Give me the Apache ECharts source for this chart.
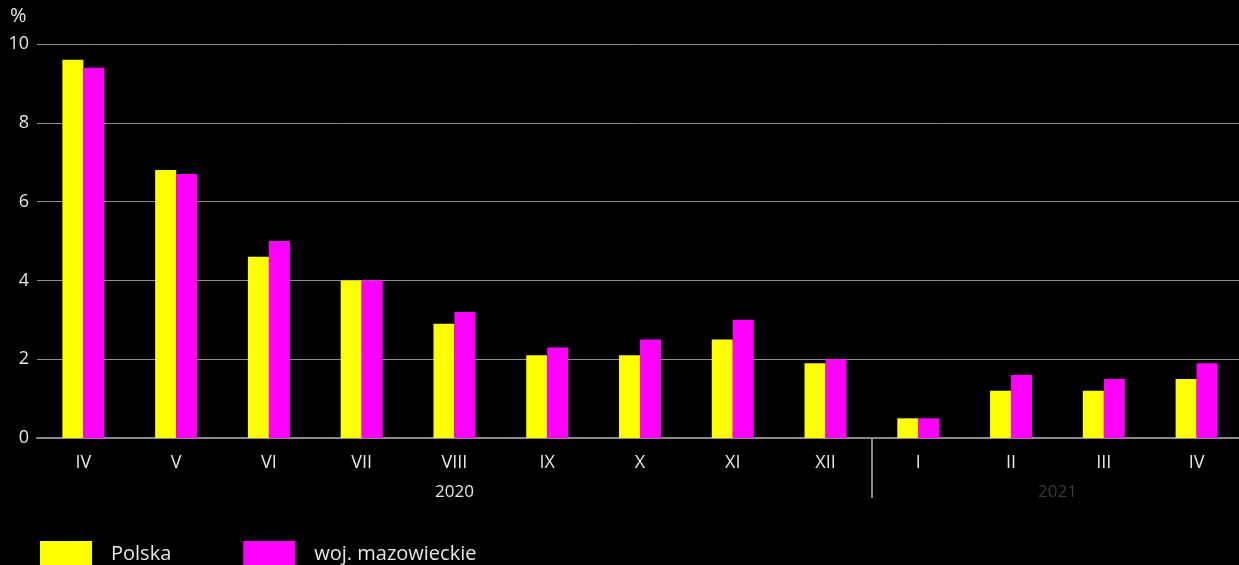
<!DOCTYPE html>
<html>
<head>
<meta charset="utf-8">
<script src="https://cdn.jsdelivr.net/npm/echarts@6/dist/echarts.min.js"></script>
<style>
  html, body { margin: 0; padding: 0; background: #000; }
  #chart { width: 1239px; height: 565px; }
</style>
</head>
<body>
<div id="chart"></div>
<script>
// months (IV 2020 .. IV 2021)
const months = ["IV", "V", "VI", "VII", "VIII", "IX", "X", "XI", "XII", "I", "II", "III", "IV"];
const polska = [9.6, 6.8, 4.6, 4.0, 2.9, 2.1, 2.1, 2.5, 1.9, 0.5, 1.2, 1.2, 1.5];
const mazowieckie = [9.4, 6.7, 5.0, 4.0, 3.2, 2.3, 2.5, 3.0, 2.0, 0.5, 1.6, 1.5, 1.9];
// year labels: position (category index) and text
const yearPos = [4, 10.5];
const yearNames = ["2020", "2021"];
const yearColors = ["#e6e6e6", "#3a3a3a"];
const yearBreak = [8.5];

const font = "'Open Sans', 'Noto Sans', sans-serif";
const chart = echarts.init(document.getElementById("chart"));

const option = {
  backgroundColor: "#000",
  animation: false,
  textStyle: { fontFamily: font },
  graphic: [
    {
      type: "text",
      left: 10,
      top: 6,
      style: { text: "%", fill: "#e6e6e6", font: "20px " + font },
    },
  ],
  legend: {
    left: 40,
    top: 541,
    padding: 0,
    itemWidth: 52,
    itemHeight: 26,
    itemGap: 72,
    icon: "rect",
    textStyle: { color: "#e6e6e6", fontSize: 20, padding: [0, 0, 0, 14] },
    data: ["Polska", "woj. mazowieckie"],
  },
  grid: {
    left: 37,
    top: 44,
    width: 1206,
    height: 394,
    outerBoundsMode: "none",
  },
  xAxis: [
    {
      type: "category",
      data: months,
      axisLine: { lineStyle: { color: "#8a8a8a", width: 2 } },
      axisTick: { show: false },
      axisLabel: { color: "#e6e6e6", fontSize: 18, margin: 16 },
    },
    {
      type: "value",
      min: -0.5,
      max: 12.5,
      position: "bottom",
      axisLine: { show: false },
      splitLine: { show: false },
      axisTick: {
        show: true,
        customValues: yearBreak,
        length: 60,
        lineStyle: { color: "#8a8a8a", width: 2 },
      },
      axisLabel: {
        show: true,
        customValues: yearPos,
        margin: 46,
        fontSize: 17,
        formatter: (v) => yearNames[yearPos.indexOf(v)],
        color: (v) => yearColors[yearPos.indexOf(Number(v))] || yearColors[0],
      },
    },
  ],
  yAxis: {
    type: "value",
    min: 0,
    max: 10,
    interval: 2,
    axisLine: { show: false },
    axisTick: { show: false },
    axisLabel: { color: "#e6e6e6", fontSize: 18, margin: 8 },
    splitLine: { lineStyle: { color: "#8f8f8f", width: 1 } },
  },
  series: [
    {
      name: "Polska",
      type: "bar",
      data: polska,
      barWidth: 21,
      barGap: "0%",
      itemStyle: { color: "#ffff00" },
    },
    {
      name: "woj. mazowieckie",
      type: "bar",
      data: mazowieckie,
      barWidth: 21,
      itemStyle: { color: "#ff00ff" },
    },
  ],
};
chart.setOption(option);
</script>
</body>
</html>
